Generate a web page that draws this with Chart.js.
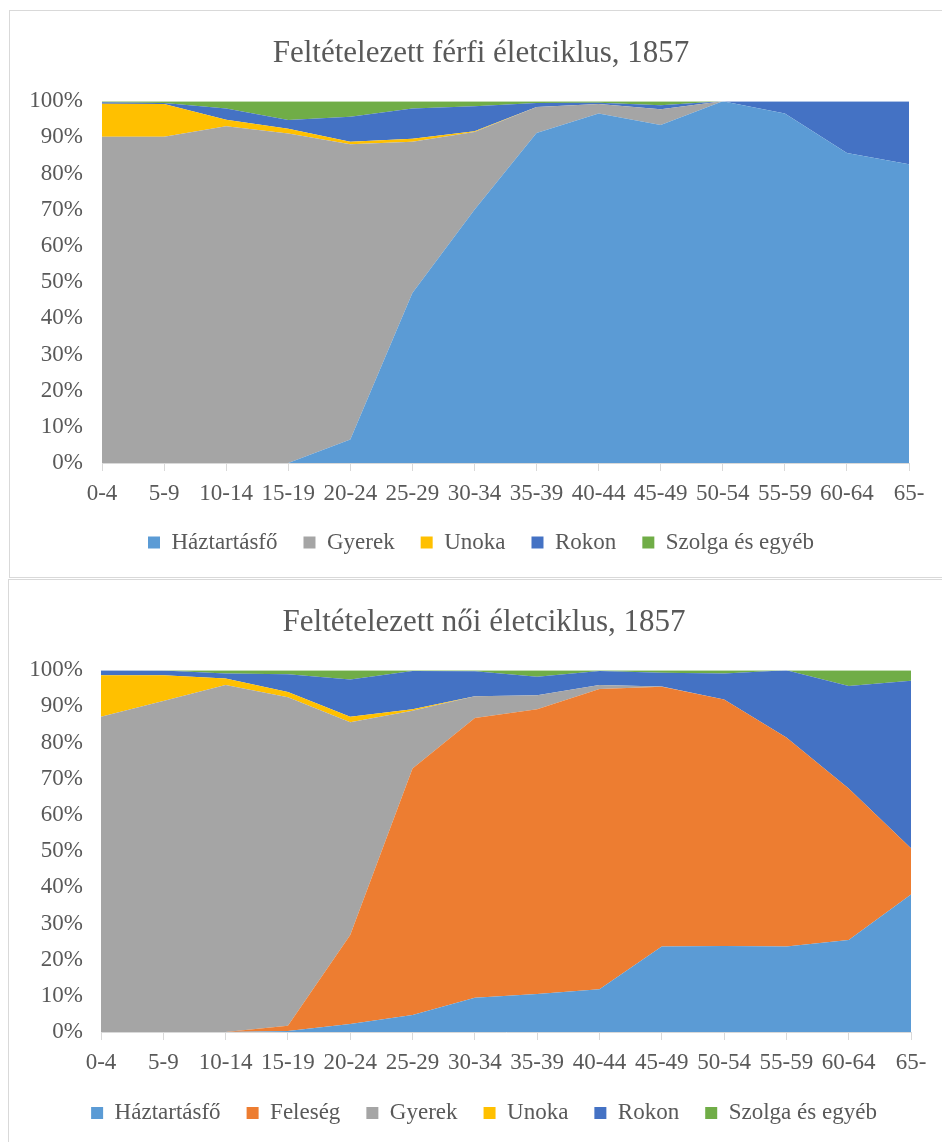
<!DOCTYPE html>
<html><head><meta charset="utf-8">
<script src="https://cdn.jsdelivr.net/npm/chart.js@4.4.1/dist/chart.umd.min.js"></script>
<style>
html,body{margin:0;padding:0;background:#fff;overflow:hidden;width:942px;height:1142px;}
.frame{position:absolute;border:1px solid #d9d9d9;box-sizing:border-box;}
canvas{position:absolute;}
</style></head><body>
<div class="frame" style="left:9px;top:10px;width:960px;height:568px;"></div>
<div class="frame" style="left:8px;top:579px;width:960px;height:600px;"></div>
<canvas id="c1" width="942" height="566" style="left:10px;top:11px;"></canvas>
<canvas id="c2" width="950" height="562" style="left:9px;top:580px;"></canvas>
<script>
// ---- data ----
const ageGroups = ['0-4','5-9','10-14','15-19','20-24','25-29','30-34','35-39','40-44','45-49','50-54','55-59','60-64','65-'];
const yTickValues = [0,10,20,30,40,50,60,70,80,90,100];

const maleTitle = 'Feltételezett férfi életciklus, 1857';
const maleHead    = [0,0,0,0,6.5,47,70,91.2,96.6,93.4,100,96.6,85.7,82.6];
const maleChild   = [90.2,90.2,93.1,91.1,81.6,41.8,21.5,7.2,2.6,4.4,0,0,0,0];
const maleGrand   = [9.1,9.0,1.8,1.3,0.7,0.8,0.2,0,0,0,0,0,0,0];
const maleRel     = [0.4,0.3,3.1,2.4,6.9,8.4,6.9,1.1,0.4,1.1,0,3.4,14.3,17.4];
const maleServ    = [0.3,0.5,2.0,5.2,4.3,2.0,1.4,0.5,0.4,1.1,0,0,0,0];

const femaleTitle = 'Feltételezett női életciklus, 1857';
const femaleHead  = [0,0,0,0.3,2.2,4.7,9.5,10.5,11.8,23.6,23.8,23.6,25.4,38.0];
const femaleWife  = [0,0,0,1.4,24.6,68.1,77.3,78.7,83.0,71.8,68.1,57.8,41.9,12.8];
const femaleChild = [87.1,91.5,95.9,90.8,58.8,16.0,6.0,3.9,1.1,0.1,0,0,0,0];
const femaleGrand = [11.5,7.1,1.8,1.5,1.5,0.4,0,0,0,0,0,0,0,0];
const femaleRel   = [1.4,1.3,1.4,4.9,10.3,10.6,6.9,5.1,3.9,3.8,7.2,18.6,28.3,46.3];
const femaleServ  = [0,0.1,0.9,1.1,2.6,0.2,0.3,1.8,0.2,0.7,0.9,0,4.4,2.9];

const labelHead = 'Háztartásfő', labelWife = 'Feleség', labelChild = 'Gyerek',
      labelGrand = 'Unoka', labelRel = 'Rokon', labelServ = 'Szolga és egyéb';

// ---- styles ----
const COL = {head:'#5B9BD5', wife:'#ED7D31', child:'#A5A5A5', grand:'#FFC000', rel:'#4472C4', serv:'#70AD47'};
const TXT = '#595959';
const FAM = '"Liberation Serif", "Times New Roman", serif';

function ds(label, data, color, i){
  return {label, data, backgroundColor: color, borderColor: color, borderWidth: 0,
          fill: i === 0 ? 'origin' : '-1', pointRadius: 0, pointHoverRadius: 0, tension: 0};
}

function make(id, title, series, lay){
  new Chart(document.getElementById(id), {
    type: 'line',
    data: { labels: ageGroups, datasets: series.map((s,i)=>ds(s[0], s[1], s[2], i)) },
    options: {
      responsive: false, animation: false,
      layout: { padding: { left: 0, right: 0, top: 0, bottom: lay.bottom } },
      plugins: {
        tooltip: { enabled: false },
        title: { display: true, text: title, color: TXT,
                 font: { family: FAM, size: 31, weight: 'normal' },
                 padding: { top: 24, bottom: 29 } },
        legend: { position: 'bottom',
                  labels: { boxWidth: 12, boxHeight: 12, padding: 26, color: TXT,
                            font: { family: FAM, size: 23 } } }
      },
      scales: {
        x: {
          grid: { display: true, drawOnChartArea: false, drawTicks: true, tickLength: 8, color: '#d9d9d9' },
          border: { display: true, color: '#d9d9d9', width: 1 },
          ticks: { color: TXT, font: { family: FAM, size: 23 }, padding: 9, autoSkip: false, maxRotation: 0 },
          afterFit: s => { s.height = lay.xh; s.paddingRight = lay.right; }
        },
        y: {
          stacked: true, min: 0, max: 100,
          grid: { display: false, drawTicks: false },
          border: { display: false },
          afterBuildTicks: s => { s.ticks = yTickValues.map(v => ({value: v})); },
          ticks: { color: TXT, font: { family: FAM, size: 23 }, padding: lay.ypad, callback: v => v + '%' },
          afterFit: s => { s.width = 92; }
        }
      }
    }
  });
}

make('c1', maleTitle, [
  [labelHead, maleHead, COL.head],
  [labelChild, maleChild, COL.child],
  [labelGrand, maleGrand, COL.grand],
  [labelRel, maleRel, COL.rel],
  [labelServ, maleServ, COL.serv]
], {right: 43, bottom: 13, xh: 42, ypad: 19});

make('c2', femaleTitle, [
  [labelHead, femaleHead, COL.head],
  [labelWife, femaleWife, COL.wife],
  [labelChild, femaleChild, COL.child],
  [labelGrand, femaleGrand, COL.grand],
  [labelRel, femaleRel, COL.rel],
  [labelServ, femaleServ, COL.serv]
], {right: 48, bottom: 7.5, xh: 43.5, ypad: 18});
</script>
</body></html>
